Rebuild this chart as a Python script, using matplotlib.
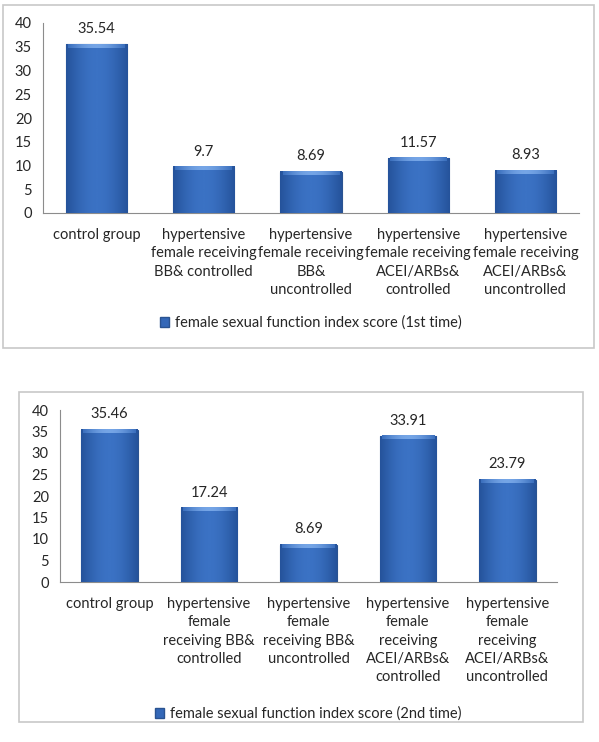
import matplotlib.pyplot as plt
import matplotlib.patches as mpatches
from matplotlib.colors import LinearSegmentedColormap
import numpy as np

plt.rcParams.update({
    'font.family': ['Lato', 'DejaVu Sans'],
    'font.size': 10.5,
    'text.color': '#262626',
    'xtick.color': '#262626',
    'ytick.color': '#262626',
})

# Dados
labels_1st = ['control group',
              'hypertensive\nfemale receiving\nBB& controlled',
              'hypertensive\nfemale receiving\nBB&\nuncontrolled',
              'hypertensive\nfemale receiving\nACEI/ARBs&\ncontrolled',
              'hypertensive\nfemale receiving\nACEI/ARBs&\nuncontrolled']
values_1st = [35.54, 9.7, 8.69, 11.57, 8.93]
value_text_1st = ['35.54', '9.7', '8.69', '11.57', '8.93']
legend_1st = 'female sexual function index score (1st time)'

labels_2nd = ['control group',
              'hypertensive\nfemale\nreceiving BB&\ncontrolled',
              'hypertensive\nfemale\nreceiving BB&\nuncontrolled',
              'hypertensive\nfemale\nreceiving\nACEI/ARBs&\ncontrolled',
              'hypertensive\nfemale\nreceiving\nACEI/ARBs&\nuncontrolled']
values_2nd = [35.46, 17.24, 8.69, 33.91, 23.79]
value_text_2nd = ['35.46', '17.24', '8.69', '33.91', '23.79']
legend_2nd = 'female sexual function index score (2nd time)'

W, H = 599, 742
fig = plt.figure(figsize=(W / 100, H / 100), dpi=100)


def px_rect(x0, y0, x1, y1):
    # caixa em pixels (origem no topo) -> fração da figura
    return [x0 / W, 1 - y1 / H, (x1 - x0) / W, (y1 - y0) / H]


# gradiente horizontal das barras (claro no meio, escuro nas bordas)
grad = np.sin(np.linspace(0, 1, 64) * np.pi).reshape(1, -1)
bar_cmap = LinearSegmentedColormap.from_list('b', ['#25539b', '#3b72c4'])
top_cmap = LinearSegmentedColormap.from_list('t', ['#3b6fbd', '#75a5e6'])


def draw_panel(border, axbox, labels, values, vtexts, legend_label, legend_y):
    fig.patches.append(mpatches.Rectangle(
        (border[0] / W, 1 - border[3] / H), (border[2] - border[0]) / W,
        (border[3] - border[1]) / H, transform=fig.transFigure,
        fill=False, edgecolor='#c8c8c8', linewidth=1.2))
    ax = fig.add_axes(px_rect(*axbox))
    x = np.arange(len(values))
    bars = ax.bar(x, values, width=0.57, color='#3468b8',
                  edgecolor='#2a5391', linewidth=0.8, zorder=2)
    for b in bars:
        x0, w, h = b.get_x(), b.get_width(), b.get_height()
        ax.imshow(grad, cmap=bar_cmap, aspect='auto', zorder=3,
                  extent=(x0, x0 + w, 0, h), interpolation='bilinear')
        top = 0.7
        ax.imshow(grad, cmap=top_cmap, aspect='auto', zorder=4,
                  extent=(x0 + 0.02, x0 + w - 0.02, h - top, h),
                  interpolation='bilinear')
    for xi, v, t in zip(x, values, vtexts):
        ax.annotate(t, (xi, v), xytext=(0, 6), textcoords='offset points',
                    ha='center', va='bottom')
    ax.set_xlim(-0.5, len(values) - 0.5)
    ax.set_ylim(0, 40)
    ax.set_yticks(range(0, 41, 5))
    ax.set_xticks(x)
    ax.set_xticklabels(labels, linespacing=1.38)
    ax.tick_params(length=0, pad=8)
    ax.tick_params(axis='x', pad=11)
    for s in ['top', 'right']:
        ax.spines[s].set_visible(False)
    for s in ['left', 'bottom']:
        ax.spines[s].set_color('#8c8c8c')
    ax.set_facecolor('white')
    handle = mpatches.Patch(facecolor='#3468b8', edgecolor='#2a5391')
    fig.legend([handle], [legend_label], loc='center',
               bbox_to_anchor=((axbox[0] + axbox[2]) / 2 / W, 1 - legend_y / H),
               frameon=False, handlelength=0.6, handleheight=0.6,
               handletextpad=0.4)


draw_panel((3, 5, 594, 348), (43, 23, 579, 213), labels_1st, values_1st,
           value_text_1st, legend_1st, 323)
draw_panel((19, 392, 583, 722), (60, 410, 557, 582), labels_2nd, values_2nd,
           value_text_2nd, legend_2nd, 714)

fig.savefig('out.png', dpi=100, facecolor='white')
